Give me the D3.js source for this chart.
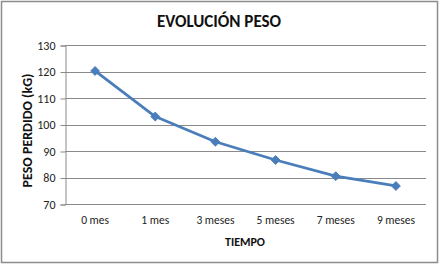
<!DOCTYPE html>
<html>
<head>
<meta charset="utf-8">
<script src="https://cdn.jsdelivr.net/npm/d3@7"></script>
<style>
	body { margin: 0; background: #fff; }
	text { font-family: Carlito, Lato, sans-serif; }
</style>
</head>
<body>
<script>
// categories and values
var months = ['0 mes', '1 mes', '3 meses', '5 meses', '7 meses', '9 meses'];
var weight = [120.2, 103, 93.5, 86.6, 80.5, 76.8];
var yTicks = [70, 80, 90, 100, 110, 120, 130];

var W = 440, H = 264;
var mLeft = 65, mRight = 426, mTop = 45, mBottom = 204;

var svg = d3.select('body').append('svg')
	.attr('width', W)
	.attr('height', H);

// outer frame
svg.append('rect')
	.attr('x', 1.5).attr('y', 1.5)
	.attr('width', W - 4).attr('height', H - 3)
	.attr('fill', '#fff')
	.attr('stroke', '#8c8c8c')
	.attr('stroke-width', 1.5);

var x = d3.scaleBand().domain(months).range([mLeft, mRight]);
var y = d3.scaleLinear().domain([70, 130]).range([mBottom, mTop]);

// gridlines
svg.append('g').selectAll('line')
	.data(yTicks.slice(1))
	.enter().append('line')
	.attr('x1', mLeft).attr('x2', mRight)
	.attr('y1', function(d) { return Math.round(y(d)) + 0.5; })
	.attr('y2', function(d) { return Math.round(y(d)) + 0.5; })
	.attr('stroke', '#8a8a8a')
	.attr('stroke-width', 1);

// y axis
var yAxis = svg.append('g')
	.attr('transform', 'translate(' + (mLeft + 0.5) + ',0.5)')
	.call(d3.axisLeft(y).tickValues(yTicks).tickSize(5).tickPadding(5));
yAxis.select('.domain').attr('stroke', '#8a8a8a');
yAxis.selectAll('.tick line').attr('stroke', '#8a8a8a');
yAxis.selectAll('text').attr('font-size', 12).attr('fill', '#222')
	.style('font-family', 'Carlito, Lato, sans-serif');

// x axis
var xAxis = svg.append('g')
	.attr('transform', 'translate(0,' + (mBottom + 0.5) + ')')
	.call(d3.axisBottom(x).tickSize(0).tickPadding(11));
xAxis.select('.domain').attr('stroke', '#8a8a8a').attr('d', 'M' + mLeft + ',0H' + mRight);
xAxis.selectAll('text').attr('font-size', 11.5).attr('fill', '#222')
	.style('font-family', 'Carlito, Lato, sans-serif');

// line
var line = d3.line()
	.x(function(d, i) { return x(months[i]) + x.bandwidth() / 2; })
	.y(function(d) { return y(d); });

svg.append('path')
	.datum(weight)
	.attr('d', line)
	.attr('fill', 'none')
	.attr('stroke', '#4a7ebb')
	.attr('stroke-width', 2.75)
	.attr('stroke-linejoin', 'round');

// diamond markers
svg.append('g').selectAll('path')
	.data(weight)
	.enter().append('path')
	.attr('d', d3.symbol().type(d3.symbolDiamond2).size(50))
	.attr('transform', function(d, i) {
		return 'translate(' + (x(months[i]) + x.bandwidth() / 2) + ',' + y(d) + ')';
	})
	.attr('fill', '#4a7ebb')
	.attr('stroke', '#4a7ebb')
	.attr('stroke-width', 1);

// titles
svg.append('text')
	.attr('x', 219).attr('y', 27)
	.attr('text-anchor', 'middle')
	.attr('font-size', 17).attr('font-weight', 'bold')
	.attr('fill', '#111')
	.text('EVOLUCIÓN PESO');

svg.append('text')
	.attr('x', 245).attr('y', 246)
	.attr('text-anchor', 'middle')
	.attr('font-size', 12).attr('font-weight', 'bold')
	.attr('fill', '#111')
	.text('TIEMPO');

svg.append('text')
	.attr('transform', 'translate(32,' + ((mTop + mBottom) / 2 + 6) + ') rotate(-90)')
	.attr('text-anchor', 'middle')
	.attr('font-size', 14).attr('font-weight', 'bold')
	.attr('fill', '#111')
	.text('PESO PERDIDO (kG)');
</script>
</body>
</html>
